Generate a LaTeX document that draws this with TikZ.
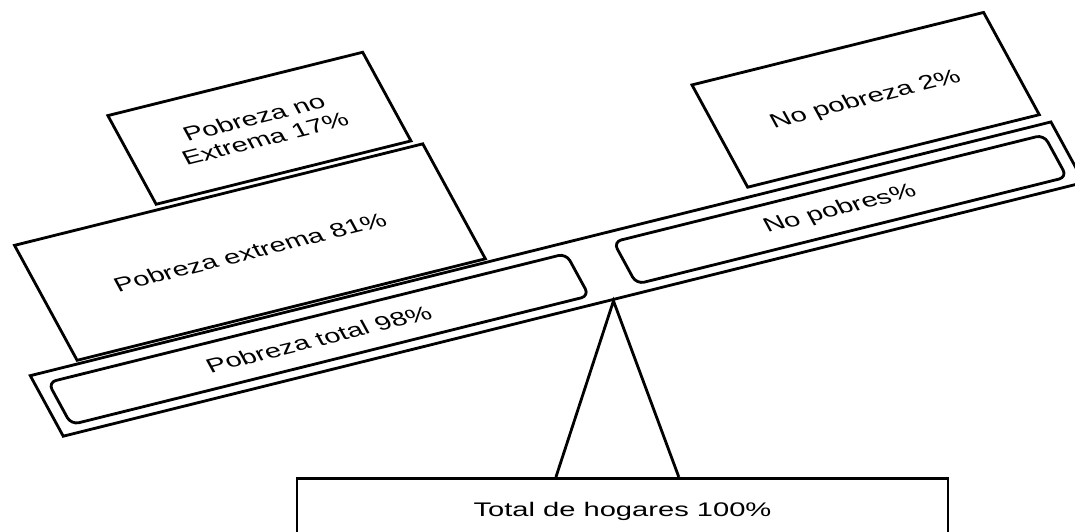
\documentclass[tikz,border=0pt]{standalone}
\usepackage{fontspec}
\setmainfont{Liberation Sans}
\usetikzlibrary{calc}

\begin{document}
\begin{tikzpicture}[
    x=0.02cm, y=0.02cm, xscale=1.48,
    every node/.style={transform shape, font=\fontsize{11.2}{12.5}\selectfont},
    box/.style={draw=black, line width=1.6pt, inner sep=0pt, anchor=south west},
    pill/.style={box, rounded corners=0.16cm}
  ]
  \clip (0,0) rectangle (726.35,531);

  % balanza inclinada
  \begin{scope}[shift={(41.9,93)}, rotate=20.2]
    \node[box, minimum width=14.7cm, minimum height=1.29cm] (beam) at (0,0) {};
    \node[pill, minimum width=7.46cm, minimum height=0.9cm] (poor) at (9,9) {Pobreza total 98\%};
    \node[pill, minimum width=6.2cm, minimum height=0.9cm] (nonpoor) at (416,9) {No pobres\%};

    \node[box, minimum width=5.88cm, minimum height=2.45cm] (extreme) at (35,68) {Pobreza extrema 81\%};
    \node[box, align=center, minimum width=3.67cm, minimum height=1.89cm] (nonextreme) at (139,196) {Pobreza no\\Extrema 17\%};
    \node[box, minimum width=4.2cm, minimum height=2.18cm] (nopoverty) at (520,74) {No pobreza 2\%};

    \coordinate (pivot) at (397,0);
  \end{scope}

  \node[box, anchor=north, minimum width=8.8cm, minimum height=1.32cm] (households) at (420.6,54) {Total de hogares 100\%};

  \draw[line width=1.6pt] ($(households.north)+(-45,0)$) -- (pivot) -- ($(households.north)+(38,0)$);

\end{tikzpicture}
\end{document}
